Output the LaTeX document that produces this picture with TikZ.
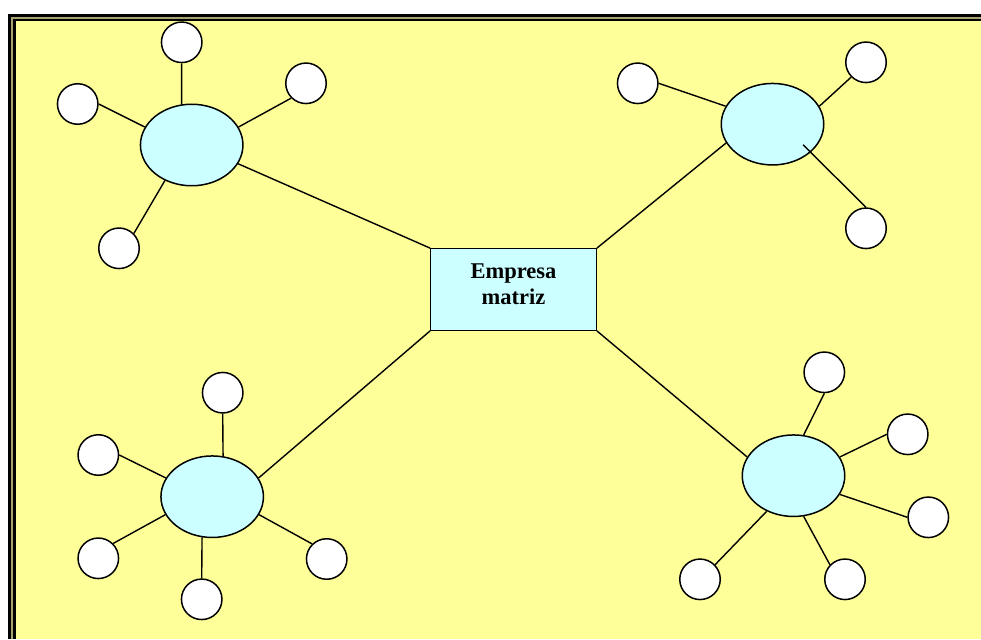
\documentclass[tikz,border=0pt]{standalone}
\usepackage{fontspec}
\setmainfont{Liberation Serif}
\usetikzlibrary{shapes.geometric,calc}
\definecolor{paper}{HTML}{FFFF99}
\definecolor{cyanfill}{HTML}{CCFFFF}
\definecolor{khaki}{HTML}{A8A270}
\tikzset{
  unit/.style={draw=black,line width=1.5pt,fill=cyanfill,ellipse,
    minimum width=102.5pt,minimum height=81.5pt,inner sep=0pt},
  leaf/.style={draw=black,line width=1.5pt,fill=white,circle,
    minimum size=40.5pt,inner sep=0pt},
  hub/.style={draw=black,line width=1.2pt,fill=cyanfill,rectangle,
    minimum width=165.5pt,minimum height=81.5pt,inner sep=0pt},
  hubtext/.style={font=\fontsize{22.5}{26}\selectfont\bfseries,align=center,inner sep=0pt},
  link/.style={draw=black,line width=1.4pt},
}
\begin{document}
\begin{tikzpicture}[x=1pt,y=-1pt]
\useasboundingbox (0,0) rectangle (981,639);
\fill[white] (0,0) rectangle (981,639);
% triple-line frame, running off the right and bottom edges
\fill[black] (8,14) rectangle (981,639);
\fill[khaki] (11,16.7) rectangle (981,639);
\fill[black] (13,18.7) rectangle (981,639);
\fill[paper] (15.7,21.3) rectangle (981,639);

% parent company
\node[hub] (hub) at (513.5,289.5) {};
\node[hubtext] (hublabel) at (513.5,284.7) {Empresa\\matriz};

% subsidiaries
\node[unit] (ea) at (191.7,145) {};
\node[unit] (eb) at (772.5,124.2) {};
\node[unit] (ec) at (212.2,496.7) {};
\node[unit] (ed) at (793.5,475.7) {};

% branches of the upper-left subsidiary
\node[leaf] (a1) at (181.7,42.3) {};
\node[leaf] (a2) at (77.7,104) {};
\node[leaf] (a3) at (306,83.3) {};
\node[leaf] (a4) at (119,248.3) {};

% branches of the upper-right subsidiary
\node[leaf] (b1) at (637.7,83.3) {};
\node[leaf] (b2) at (866,62.3) {};
\node[leaf] (b3) at (866,228.3) {};

% branches of the lower-left subsidiary
\node[leaf] (c1) at (222.7,392.7) {};
\node[leaf] (c2) at (98.3,455) {};
\node[leaf] (c3) at (98.3,558.3) {};
\node[leaf] (c4) at (201.7,599.3) {};
\node[leaf] (c5) at (326.7,559) {};

% branches of the lower-right subsidiary
\node[leaf] (d1) at (824.3,372.3) {};
\node[leaf] (d2) at (907.7,434.3) {};
\node[leaf] (d3) at (928.3,517.3) {};
\node[leaf] (d4) at (700,579.3) {};
\node[leaf] (d5) at (845,579.3) {};

% links to the parent company
\draw[link] (ea.338) -- (hub.north west);
\draw[link] (eb.202) -- (hub.north east);
\draw[link] (ec.22) -- (hub.south west);
\draw[link] (ed.158) -- (hub.south east);

% upper-left links
\draw[link] (a1.south) -- (ea.104);
\draw[link] (a2.0) -- (ea.159);
\draw[link] (a3.225) -- (ea.21);
\draw[link] (a4.45) -- (ea.233);

% upper-right links
\draw[link] (b1.0) -- (eb.159);
\draw[link] (b2.225) -- (eb.21);
\draw[link] (b3.north) -- ($(eb.center)!0.77!(eb.-34)$);

% lower-left links
\draw[link] (c1.south) -- (ec.75);
\draw[link] (c2.0) -- (ec.158);
\draw[link] (c3.45) -- (ec.201);
\draw[link] (c4.north) -- (ec.256);
\draw[link] (c5.134) -- (ec.-21);

% lower-right links
\draw[link] (d1.south) -- (ed.76);
\draw[link] (d2.180) -- (ed.22);
\draw[link] (d3.180) -- (ed.-22);
\draw[link] (d4.44) -- (ed.233);
\draw[link] (d5.136) -- (ed.-76);
\end{tikzpicture}
\end{document}
